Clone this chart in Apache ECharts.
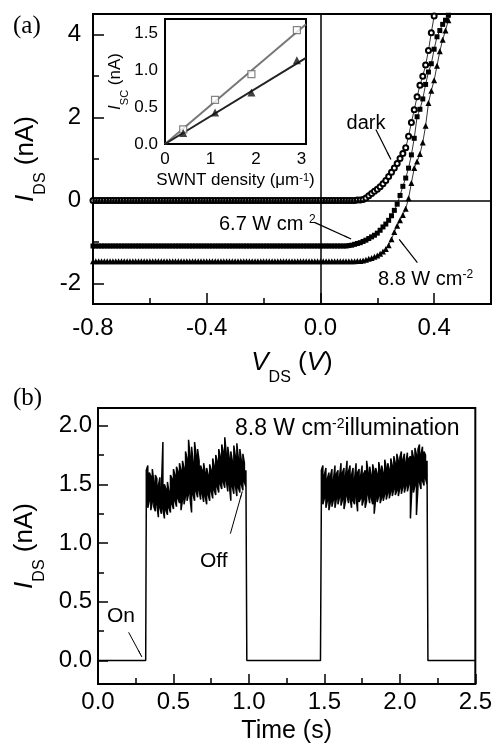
<!DOCTYPE html>
<html>
<head>
<meta charset="utf-8">
<script src="https://cdn.jsdelivr.net/npm/echarts@6/dist/echarts.min.js"></script>
<style>
html, body { margin: 0; padding: 0; background: #fff; }
#chart { width: 495px; height: 750px; }
</style>
</head>
<body>
<div id="chart"></div>
<script>
const FONT = 'Liberation Sans, Arial, Helvetica, sans-serif';
const SERIF = 'Liberation Serif, Times New Roman, serif';

// ---- (a) I-V sweep: flat part shares the voltage grid ----
const sweepV = [
  -0.80, -0.79, -0.78, -0.77, -0.76, -0.75, -0.74, -0.73, -0.72, -0.71,
  -0.70, -0.69, -0.68, -0.67, -0.66, -0.65, -0.64, -0.63, -0.62, -0.61,
  -0.60, -0.59, -0.58, -0.57, -0.56, -0.55, -0.54, -0.53, -0.52, -0.51,
  -0.50, -0.49, -0.48, -0.47, -0.46, -0.45, -0.44, -0.43, -0.42, -0.41,
  -0.40, -0.39, -0.38, -0.37, -0.36, -0.35, -0.34, -0.33, -0.32, -0.31,
  -0.30, -0.29, -0.28, -0.27, -0.26, -0.25, -0.24, -0.23, -0.22, -0.21,
  -0.20, -0.19, -0.18, -0.17, -0.16, -0.15, -0.14, -0.13, -0.12, -0.11,
  -0.10, -0.09, -0.08, -0.07, -0.06, -0.05, -0.04, -0.03, -0.02, -0.01,
  0.00, 0.01, 0.02, 0.03, 0.04, 0.05, 0.06, 0.07, 0.08, 0.09,
  0.10, 0.11, 0.12, 0.13, 0.14
];
const darkFlatI = [
  0, 0, 0, 0, 0, 0, 0, 0, 0, 0,
  0, 0, 0, 0, 0, 0, 0, 0, 0, 0,
  0, 0, 0, 0, 0, 0, 0, 0, 0, 0,
  0, 0, 0, 0, 0, 0, 0, 0, 0, 0,
  0, 0, 0, 0, 0, 0, 0, 0, 0, 0,
  0, 0, 0, 0, 0, 0, 0, 0, 0, 0,
  0, 0, 0, 0, 0, 0, 0, 0, 0, 0,
  0, 0, 0, 0, 0, 0, 0, 0, 0, 0,
  0, 0, 0, 0, 0, 0, 0, 0, 0, 0,
  0, 0, 0, 0.01, 0.01
];
const lowFlatI = [
  -1.10, -1.10, -1.10, -1.10, -1.10, -1.10, -1.10, -1.10, -1.10, -1.10,
  -1.10, -1.10, -1.10, -1.10, -1.10, -1.10, -1.10, -1.10, -1.10, -1.10,
  -1.10, -1.10, -1.10, -1.10, -1.10, -1.10, -1.10, -1.10, -1.10, -1.10,
  -1.10, -1.10, -1.10, -1.10, -1.10, -1.10, -1.10, -1.10, -1.10, -1.10,
  -1.10, -1.10, -1.10, -1.10, -1.10, -1.10, -1.10, -1.10, -1.10, -1.10,
  -1.10, -1.10, -1.10, -1.10, -1.10, -1.10, -1.10, -1.10, -1.10, -1.10,
  -1.10, -1.10, -1.10, -1.10, -1.10, -1.10, -1.10, -1.10, -1.10, -1.10,
  -1.10, -1.10, -1.10, -1.10, -1.10, -1.10, -1.10, -1.10, -1.10, -1.10,
  -1.10, -1.10, -1.10, -1.10, -1.10, -1.10, -1.10, -1.10, -1.10, -1.10
];
const highFlatI = [
  -1.47, -1.47, -1.47, -1.47, -1.47, -1.47, -1.47, -1.47, -1.47, -1.47,
  -1.47, -1.47, -1.47, -1.47, -1.47, -1.47, -1.47, -1.47, -1.47, -1.47,
  -1.47, -1.47, -1.47, -1.47, -1.47, -1.47, -1.47, -1.47, -1.47, -1.47,
  -1.47, -1.47, -1.47, -1.47, -1.47, -1.47, -1.47, -1.47, -1.47, -1.47,
  -1.47, -1.47, -1.47, -1.47, -1.47, -1.47, -1.47, -1.47, -1.47, -1.47,
  -1.47, -1.47, -1.47, -1.47, -1.47, -1.47, -1.47, -1.47, -1.47, -1.47,
  -1.47, -1.47, -1.47, -1.47, -1.47, -1.47, -1.47, -1.47, -1.47, -1.47,
  -1.47, -1.47, -1.47, -1.47, -1.47, -1.47, -1.47, -1.47, -1.47, -1.47,
  -1.47, -1.47, -1.47, -1.47, -1.47, -1.47, -1.47, -1.47, -1.47, -1.47,
  -1.47, -1.47, -1.47
];
// turn-on parts, [V, I]
const darkRise = [
  [0.15, 0.02], [0.16, 0.06], [0.17, 0.11], [0.18, 0.17], [0.19, 0.22],
  [0.20, 0.27], [0.21, 0.33], [0.22, 0.40], [0.23, 0.48], [0.24, 0.58],
  [0.25, 0.68], [0.26, 0.78], [0.27, 0.89], [0.28, 1.01], [0.29, 1.13],
  [0.30, 1.27], [0.31, 1.55], [0.32, 1.88], [0.33, 2.19], [0.34, 2.50],
  [0.35, 2.78], [0.36, 3.00], [0.37, 3.27], [0.38, 3.62], [0.39, 4.05],
  [0.40, 4.45], [0.41, 4.80]
];
const lowRise = [
  [0.10, -1.09], [0.11, -1.08], [0.12, -1.06], [0.13, -1.04], [0.14, -1.02],
  [0.15, -0.99], [0.16, -0.96], [0.17, -0.92], [0.18, -0.88], [0.19, -0.84],
  [0.20, -0.79], [0.21, -0.72], [0.22, -0.64], [0.23, -0.57], [0.24, -0.48],
  [0.25, -0.37], [0.26, -0.24], [0.27, -0.09], [0.28, 0.12], [0.29, 0.34],
  [0.30, 0.54], [0.31, 0.78], [0.32, 1.10], [0.33, 1.50], [0.34, 2.02],
  [0.35, 2.20], [0.36, 2.45], [0.37, 2.80], [0.38, 3.10], [0.39, 3.30],
  [0.40, 3.65], [0.41, 3.95], [0.42, 4.10], [0.43, 4.25], [0.44, 4.35],
  [0.45, 4.47], [0.46, 4.60]
];
const highRise = [
  [0.13, -1.46], [0.14, -1.46], [0.15, -1.45], [0.16, -1.43], [0.17, -1.41],
  [0.18, -1.39], [0.19, -1.36], [0.20, -1.33], [0.21, -1.29], [0.22, -1.23],
  [0.23, -1.17], [0.24, -1.08], [0.25, -0.94], [0.26, -0.76], [0.27, -0.61],
  [0.28, -0.48], [0.29, -0.35], [0.30, -0.20], [0.31, 0.05], [0.32, 0.42],
  [0.33, 0.78], [0.34, 0.94], [0.35, 1.12], [0.36, 1.40], [0.37, 1.80],
  [0.38, 2.35], [0.39, 2.65], [0.40, 2.90], [0.41, 3.25], [0.42, 3.60],
  [0.43, 3.88], [0.44, 4.10], [0.45, 4.35], [0.46, 4.55]
];
const ivTicksX = [-0.8, -0.4, 0, 0.4];
const ivTicksY = [-2, 0, 2, 4];

// inset: short-circuit current vs SWNT density
const densityPts = [0.4, 1.1, 1.9, 2.9];
const iscSquare = [0.20, 0.60, 0.95, 1.55];
const iscTriangle = [0.15, 0.43, 0.70, 1.14];
const fitSquare = [[0, 0], [3.1, 1.63]];
const fitTriangle = [[0, 0], [3.1, 1.17]];
const insetTicksX = [0, 1, 2, 3];
const insetTicksY = [0, 0.5, 1, 1.5];

// ---- (b) switching: dark baseline and noisy pulses [t, low, high] ----
const offStart = [[0, 0], [0.316, 0]];
const pulse1 = [
  [0.32, 1.38, 1.62], [0.33, 1.30, 1.66], [0.34, 1.36, 1.60], [0.35, 1.28, 1.57],
  [0.36, 1.35, 1.63], [0.37, 1.31, 1.52], [0.38, 1.27, 1.58], [0.39, 1.33, 1.55],
  [0.40, 1.22, 1.49], [0.41, 1.30, 1.56], [0.42, 1.25, 1.47], [0.43, 1.29, 1.86],
  [0.44, 1.21, 1.50], [0.45, 1.28, 1.46], [0.46, 1.24, 1.52], [0.47, 1.30, 1.44],
  [0.48, 1.26, 1.58], [0.49, 1.33, 1.55], [0.50, 1.29, 1.63], [0.51, 1.36, 1.58],
  [0.52, 1.31, 1.65], [0.53, 1.38, 1.61], [0.54, 1.34, 1.68], [0.55, 1.28, 1.62],
  [0.56, 1.37, 1.70], [0.57, 1.33, 1.64], [0.58, 1.40, 1.78], [0.59, 1.36, 1.72],
  [0.60, 1.42, 1.88], [0.61, 1.38, 1.74], [0.62, 1.26, 1.82], [0.63, 1.41, 1.69],
  [0.64, 1.36, 1.86], [0.65, 1.44, 1.75], [0.66, 1.39, 1.80], [0.67, 1.45, 1.70],
  [0.68, 1.37, 1.66], [0.69, 1.42, 1.62], [0.70, 1.35, 1.68], [0.71, 1.40, 1.60],
  [0.72, 1.33, 1.64], [0.73, 1.41, 1.58], [0.74, 1.36, 1.67], [0.75, 1.44, 1.62],
  [0.76, 1.38, 1.72], [0.77, 1.45, 1.66], [0.78, 1.41, 1.75], [0.79, 1.48, 1.70],
  [0.80, 1.43, 1.80], [0.81, 1.50, 1.74], [0.82, 1.46, 1.84], [0.83, 1.52, 1.78],
  [0.84, 1.47, 1.90], [0.85, 1.53, 1.76], [0.86, 1.44, 1.82], [0.87, 1.50, 1.72],
  [0.88, 1.36, 1.78], [0.89, 1.48, 1.70], [0.90, 1.42, 1.83], [0.91, 1.49, 1.74],
  [0.92, 1.40, 1.85], [0.93, 1.47, 1.72], [0.94, 1.43, 1.80], [0.95, 1.50, 1.70],
  [0.96, 1.45, 1.76], [0.97, 1.52, 1.68], [0.98, 1.48, 1.62]
];
const offMid = [[0.986, 0], [1.474, 0]];
const pulse2 = [
  [1.48, 1.40, 1.62], [1.49, 1.33, 1.66], [1.50, 1.38, 1.58], [1.51, 1.30, 1.64],
  [1.52, 1.36, 1.55], [1.53, 1.28, 1.60], [1.54, 1.35, 1.57], [1.55, 1.31, 1.63],
  [1.56, 1.37, 1.54], [1.57, 1.30, 1.66], [1.58, 1.38, 1.59], [1.59, 1.33, 1.62],
  [1.60, 1.39, 1.56], [1.61, 1.32, 1.68], [1.62, 1.37, 1.60], [1.63, 1.29, 1.64],
  [1.64, 1.36, 1.57], [1.65, 1.40, 1.70], [1.66, 1.34, 1.61], [1.67, 1.38, 1.66],
  [1.68, 1.30, 1.58], [1.69, 1.36, 1.64], [1.70, 1.33, 1.55], [1.71, 1.39, 1.68],
  [1.72, 1.27, 1.60], [1.73, 1.35, 1.63], [1.74, 1.38, 1.57], [1.75, 1.32, 1.66],
  [1.76, 1.37, 1.59], [1.77, 1.30, 1.62], [1.78, 1.36, 1.70], [1.79, 1.41, 1.60],
  [1.80, 1.34, 1.65], [1.81, 1.39, 1.58], [1.82, 1.33, 1.67], [1.83, 1.25, 1.61],
  [1.84, 1.38, 1.64], [1.85, 1.35, 1.59], [1.86, 1.40, 1.69], [1.87, 1.34, 1.62],
  [1.88, 1.39, 1.66], [1.89, 1.36, 1.60], [1.90, 1.42, 1.71], [1.91, 1.37, 1.64],
  [1.92, 1.43, 1.68], [1.93, 1.38, 1.63], [1.94, 1.44, 1.72], [1.95, 1.40, 1.66],
  [1.96, 1.46, 1.74], [1.97, 1.41, 1.68], [1.98, 1.45, 1.76], [1.99, 1.40, 1.70],
  [2.00, 1.47, 1.73], [2.01, 1.42, 1.78], [2.02, 1.48, 1.71], [2.03, 1.43, 1.76],
  [2.04, 1.49, 1.69], [2.05, 1.44, 1.77], [2.06, 1.50, 1.72], [2.07, 1.21, 1.74],
  [2.08, 1.47, 1.79], [2.09, 1.43, 1.73], [2.10, 1.49, 1.81], [2.11, 1.24, 1.75],
  [2.12, 1.48, 1.80], [2.13, 1.52, 1.84], [2.14, 1.46, 1.76], [2.15, 1.53, 1.82],
  [2.16, 1.49, 1.78], [2.17, 1.55, 1.75], [2.18, 1.50, 1.70]
];
const offEnd = [[2.186, 0], [2.5, 0]];
const swTicksY = [0, 0.5, 1, 1.5, 2];


const onTick = (list, v) => list.some(t => Math.abs(t - v) < 1e-6);
const withSweep = (vals) => vals.map((c, i) => [sweepV[i], c]);
// each pulse row drawn as a short vertical stroke, alternating direction
const pulseTrace = (rows) => {
    const out = [];
    rows.forEach((r, i) => {
        if (i % 2 === 0) out.push([r[0], r[1]], [r[0], r[2]]);
        else out.push([r[0], r[2]], [r[0], r[1]]);
    });
    return out;
};

const darkData = withSweep(darkFlatI).concat(darkRise);
const lowData = withSweep(lowFlatI).concat(lowRise);
const highData = withSweep(highFlatI).concat(highRise);
const traceData = offStart.concat(pulseTrace(pulse1), offMid, pulseTrace(pulse2), offEnd);

const black = '#000';
const noLine = { show: false, onZero: false };
const tick = (len) => ({ inside: true, length: len, lineStyle: { color: black, width: 1.5 } });
const minor = (len) => ({ show: true, splitNumber: 2, length: len, lineStyle: { color: black, width: 1.5 } });

const richName = (big, sub) => ({
    i: { fontSize: big, fontStyle: 'italic', fontFamily: FONT, color: black, lineHeight: big, verticalAlign: 'top' },
    n: { fontSize: big, fontFamily: FONT, color: black, lineHeight: big, verticalAlign: 'top' },
    s: { fontSize: sub, fontFamily: FONT, color: black, lineHeight: sub, verticalAlign: 'top', padding: [Math.round(big * 0.75), 0, 0, 0] }
});
const richSup = (big, sup) => ({
    m: { fontSize: big, fontFamily: FONT, color: black, lineHeight: big, verticalAlign: 'bottom' },
    sup: { fontSize: sup, fontFamily: FONT, color: black, lineHeight: sup, verticalAlign: 'top', padding: [0, 0, Math.round(big * 0.45), 0] }
});

const chart = echarts.init(document.getElementById('chart'));

const option = {
    animation: false,
    backgroundColor: '#fff',
    textStyle: { fontFamily: FONT, color: black },
    grid: [
        { left: 93, top: 14, width: 398, height: 290, show: true, borderColor: black, borderWidth: 2, backgroundColor: '#fff' },
        { left: 165, top: 19, width: 141, height: 125, show: true, borderColor: black, borderWidth: 2, backgroundColor: '#fff', z: 5 },
        { left: 98, top: 408, width: 379, height: 276, show: true, borderColor: black, borderWidth: 2, backgroundColor: '#fff' }
    ],
    xAxis: [
        {
            gridIndex: 0, type: 'value', min: -0.8, max: 0.6, interval: 0.4,
            axisLine: noLine, splitLine: { show: false },
            axisTick: tick(11), minorTick: minor(6),
            axisLabel: { margin: 12, fontSize: 24, color: black, fontFamily: FONT,
                formatter: v => onTick(ivTicksX, v) ? v.toFixed(1) : '' },
            name: '{i|V}{s|DS}{n| (}{i|V}{n|)}', nameLocation: 'middle', nameGap: 46,
            nameTextStyle: { rich: richName(26, 16) }
        },
        {
            gridIndex: 1, type: 'value', min: 0, max: 3.1, interval: 1,
            axisLine: noLine, splitLine: { show: false },
            axisTick: tick(6), minorTick: minor(3),
            axisLabel: { margin: 7, fontSize: 17, color: black, fontFamily: FONT,
                formatter: v => onTick(insetTicksX, v) ? String(v) : '' },
            name: '{n|SWNT density (μm}{sup|-1}{n|)}', nameLocation: 'middle', nameGap: 28,
            nameTextStyle: { rich: {
                n: { fontSize: 17, fontFamily: FONT, color: black, lineHeight: 17, verticalAlign: 'bottom' },
                sup: { fontSize: 11, fontFamily: FONT, color: black, lineHeight: 11, verticalAlign: 'top', padding: [0, 0, 8, 0] }
            } }
        },
        {
            gridIndex: 2, type: 'value', min: 0, max: 2.5, interval: 0.5,
            axisLine: noLine, splitLine: { show: false },
            axisTick: tick(10), minorTick: minor(6),
            axisLabel: { margin: 6, fontSize: 24, color: black, fontFamily: FONT,
                formatter: v => v.toFixed(1) },
            name: 'Time (s)', nameLocation: 'middle', nameGap: 35,
            nameTextStyle: { fontSize: 25, fontFamily: FONT, color: black }
        }
    ],
    yAxis: [
        {
            gridIndex: 0, type: 'value', min: -2.5, max: 4.5, splitNumber: 4,
            axisLine: noLine, splitLine: { show: false },
            axisTick: tick(11), minorTick: minor(6),
            axisLabel: { margin: 12, fontSize: 24, color: black, fontFamily: FONT,
                formatter: v => onTick(ivTicksY, v) ? String(v) : '' },
            name: '{i|I}{s|DS}{n| (nA)}', nameLocation: 'middle', nameGap: 50,
            nameTextStyle: { rich: richName(26, 16) }
        },
        {
            gridIndex: 1, type: 'value', min: 0, max: 1.7, interval: 0.5,
            axisLine: noLine, splitLine: { show: false },
            axisTick: tick(6), minorTick: minor(3),
            axisLabel: { margin: 7, fontSize: 17, color: black, fontFamily: FONT,
                formatter: v => onTick(insetTicksY, v) ? v.toFixed(1) : '' },
            name: '{i|I}{s|SC}{n| (nA)}', nameLocation: 'middle', nameGap: 38,
            nameTextStyle: { rich: richName(17, 11) }
        },
        {
            gridIndex: 2, type: 'value', min: -0.2, max: 2.15, splitNumber: 5,
            axisLine: noLine, splitLine: { show: false },
            axisTick: tick(10), minorTick: minor(6),
            axisLabel: { margin: 6, fontSize: 24, color: black, fontFamily: FONT,
                formatter: v => onTick(swTicksY, v) ? v.toFixed(1) : '' },
            name: '{i|I}{s|DS}{n| (nA)}', nameLocation: 'middle', nameGap: 55,
            nameTextStyle: { rich: richName(26, 16) }
        }
    ],
    series: [
        {
            name: 'dark', type: 'line', xAxisIndex: 0, yAxisIndex: 0, data: darkData,
            symbol: 'emptyCircle', symbolSize: 5,
            lineStyle: { color: black, width: 0.8 }, itemStyle: { color: black, borderWidth: 0.8 },
            markLine: {
                silent: true, symbol: ['none', 'none'], label: { show: false },
                lineStyle: { color: black, width: 1.5, type: 'solid' },
                data: [{ xAxis: 0 }, { yAxis: 0 }]
            }
        },
        {
            name: '6.7', type: 'line', xAxisIndex: 0, yAxisIndex: 0, data: lowData,
            symbol: 'rect', symbolSize: 5,
            lineStyle: { color: black, width: 0.8 }, itemStyle: { color: black },
            markLine: {
                silent: true, symbol: ['none', 'arrow'], symbolSize: [1, 8], label: { show: false },
                lineStyle: { color: black, width: 1.2, type: 'solid' },
                data: [
                    [{ coord: [0.195, 1.71] }, { coord: [0.248, 0.99] }],
                    [{ coord: [-0.021, -0.53] }, { coord: [0.108, -0.93] }],
                    [{ coord: [0.341, -1.50] }, { coord: [0.277, -0.94] }]
                ]
            }
        },
        {
            name: '8.8', type: 'line', xAxisIndex: 0, yAxisIndex: 0, data: highData,
            symbol: 'triangle', symbolSize: 6,
            lineStyle: { color: black, width: 0.8 }, itemStyle: { color: black }
        },
        {
            type: 'line', xAxisIndex: 1, yAxisIndex: 1, data: fitSquare, showSymbol: false, z: 6,
            lineStyle: { color: '#777', width: 2 }
        },
        {
            type: 'line', xAxisIndex: 1, yAxisIndex: 1, data: fitTriangle, showSymbol: false, z: 6,
            lineStyle: { color: '#222', width: 2 }
        },
        {
            type: 'scatter', xAxisIndex: 1, yAxisIndex: 1, z: 7,
            data: densityPts.map((d, i) => [d, iscSquare[i]]),
            symbol: 'rect', symbolSize: 7,
            itemStyle: { color: '#fff', borderColor: '#666', borderWidth: 1.2 }
        },
        {
            type: 'scatter', xAxisIndex: 1, yAxisIndex: 1, z: 7,
            data: densityPts.map((d, i) => [d, iscTriangle[i]]),
            symbol: 'triangle', symbolSize: 8,
            itemStyle: { color: '#111' }
        },
        {
            type: 'line', xAxisIndex: 2, yAxisIndex: 2, data: traceData, showSymbol: false,
            lineStyle: { color: black, width: 1.5 },
            markLine: {
                silent: true, symbol: ['none', 'arrow'], symbolSize: [1, 8], label: { show: false },
                lineStyle: { color: black, width: 1, type: 'solid' },
                data: [
                    [{ coord: [0.877, 1.08] }, { coord: [0.956, 1.44] }],
                    [{ coord: [0.203, 0.24] }, { coord: [0.291, 0.03] }]
                ]
            }
        }
    ],
    graphic: [
        { type: 'text', x: 13, y: 26, style: { text: '(a)', font: '25px ' + SERIF, fill: black, align: 'left', verticalAlign: 'middle', textAlign: 'left', textVerticalAlign: 'middle' } },
        { type: 'text', x: 13, y: 398, style: { text: '(b)', font: '25px ' + SERIF, fill: black, align: 'left', verticalAlign: 'middle', textAlign: 'left', textVerticalAlign: 'middle' } },
        { type: 'text', x: 366, y: 123, style: { text: 'dark', font: '20px ' + FONT, fill: black, align: 'center', verticalAlign: 'middle', textAlign: 'center', textVerticalAlign: 'middle' } },
        { type: 'text', x: 219, y: 224, style: { text: '{m|6.7 W cm }{sup|2}', rich: richSup(20, 12), fill: black, align: 'left', verticalAlign: 'middle', textAlign: 'left', textVerticalAlign: 'middle' } },
        { type: 'text', x: 378, y: 279, style: { text: '{m|8.8 W cm}{sup|-2}', rich: richSup(20, 12), fill: black, align: 'left', verticalAlign: 'middle', textAlign: 'left', textVerticalAlign: 'middle' } },
        { type: 'text', x: 235, y: 429, style: { text: '{m|8.8 W cm}{sup|-2}{m|illumination}', rich: richSup(23, 14), fill: black, align: 'left', verticalAlign: 'middle', textAlign: 'left', textVerticalAlign: 'middle' } },
        { type: 'text', x: 200, y: 561, style: { text: 'Off', font: '21px ' + FONT, fill: black, align: 'left', verticalAlign: 'middle', textAlign: 'left', textVerticalAlign: 'middle' } },
        { type: 'text', x: 107, y: 616, style: { text: 'On', font: '21px ' + FONT, fill: black, align: 'left', verticalAlign: 'middle', textAlign: 'left', textVerticalAlign: 'middle' } }
    ]
};

chart.setOption(option);
</script>
</body>
</html>
